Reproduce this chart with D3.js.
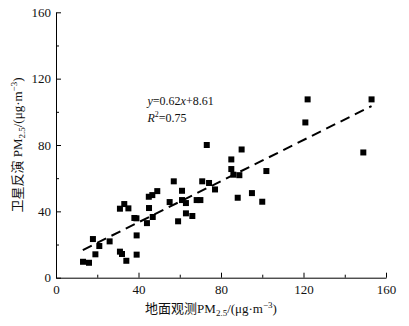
<!DOCTYPE html>
<html>
<head>
<meta charset="utf-8">
<script src="https://cdn.jsdelivr.net/npm/d3@7"></script>
<style>
  body { margin: 0; background: #fff; }
  svg text { font-family: "Liberation Serif", "Noto Sans CJK SC", serif; fill: #111; }
</style>
</head>
<body>
<div id="chart"></div>
<script>
const groundPM = [13.1, 16.0, 17.9, 19.1, 21.0, 26.0, 31.0, 31.0, 32.0, 33.1, 34.1, 35.1, 38.0, 39.0, 39.1, 39.1,
    44.1, 45.0, 45.1, 46.7, 46.9, 49.1, 55.1, 57.1, 59.2, 61.1, 61.1, 63.0, 63.0, 66.1, 68.2, 70.0, 70.9,
    73.1, 74.2, 77.1, 85.0, 85.0, 86.0, 88.1, 88.9, 90.0, 95.0, 100.0, 102.0, 120.9, 122.0, 149.0, 153.0];
const satellitePM = [9.6, 9.0, 23.3, 14.1, 19.1, 21.9, 41.6, 15.7, 14.3, 44.4, 10.2, 41.8, 36.0, 35.8, 25.5, 13.9,
    32.9, 48.8, 42.0, 49.8, 36.6, 52.2, 45.6, 58.1, 34.0, 52.4, 46.8, 45.0, 38.8, 37.2, 46.8, 46.8, 58.1,
    80.0, 57.1, 53.2, 71.3, 65.5, 62.1, 48.2, 61.8, 77.3, 51.0, 45.8, 64.3, 93.6, 107.5, 75.5, 107.5];

// regression shown on the chart
const fitSlope = 0.62;
const fitIntercept = 8.61;
const fitRange = [13, 153];

const majorTicks = [0, 40, 80, 120, 160];
const minorTicks = [20, 60, 100, 140];

const width = 409, height = 326;
const margin = { top: 12.3, right: 23, bottom: 48.3, left: 56 };
const w = width - margin.left - margin.right;
const h = height - margin.top - margin.bottom;

const svg = d3.select("#chart").append("svg")
    .attr("width", width)
    .attr("height", height);

const g = svg.append("g")
    .attr("transform", `translate(${margin.left},${margin.top})`);

const x = d3.scaleLinear().domain([0, 160]).range([0, w]);
const y = d3.scaleLinear().domain([0, 160]).range([h, 0]);

// axes, ticks pointing inward
g.append("g")
    .attr("transform", `translate(0,${h})`)
    .call(d3.axisBottom(x).tickValues(minorTicks).tickSize(-3).tickSizeOuter(0).tickFormat(""))
    .call(a => a.select(".domain").remove());
g.append("g")
    .call(d3.axisLeft(y).tickValues(minorTicks).tickSize(-3).tickSizeOuter(0).tickFormat(""))
    .call(a => a.select(".domain").remove());

const xAxis = g.append("g")
    .attr("transform", `translate(0,${h})`)
    .call(d3.axisBottom(x).tickValues(majorTicks).tickSize(-5).tickSizeOuter(0).tickPadding(7));
const yAxis = g.append("g")
    .call(d3.axisLeft(y).tickValues(majorTicks).tickSize(-5).tickSizeOuter(0).tickPadding(5));

[xAxis, yAxis].forEach(a => {
    a.selectAll("text").style("font-size", "13px").attr("fill", "#111");
    a.selectAll("line, path").attr("stroke", "#000");
});

// points
g.selectAll("rect.pt")
    .data(groundPM.map((v, i) => [v, satellitePM[i]]))
    .enter()
    .append("rect")
    .attr("class", "pt")
    .attr("x", d => x(d[0]) - 3)
    .attr("y", d => y(d[1]) - 3)
    .attr("width", 6)
    .attr("height", 6)
    .attr("fill", "#000");

// fit line
const line = d3.line()
    .x(d => x(d))
    .y(d => y(fitSlope * d + fitIntercept));

g.append("path")
    .datum(fitRange)
    .attr("fill", "none")
    .attr("stroke", "#000")
    .attr("stroke-width", 2)
    .attr("stroke-dasharray", "10 6")
    .attr("d", line);

// equation
const eq = svg.append("text")
    .attr("x", 147.5)
    .attr("y", 105.3)
    .style("font-size", "12px");
eq.append("tspan").style("font-style", "italic").text("y");
eq.append("tspan").text("=0.62");
eq.append("tspan").style("font-style", "italic").text("x");
eq.append("tspan").text("+8.61");

const r2 = svg.append("text")
    .attr("x", 147.5)
    .attr("y", 122.3)
    .style("font-size", "12px");
r2.append("tspan").style("font-style", "italic").text("R");
r2.append("tspan").attr("dy", -5).style("font-size", "8px").text("2");
r2.append("tspan").attr("dy", 5).text("=0.75");

// axis labels
function unitLabel(sel, prefix) {
    sel.append("tspan").text(prefix + "PM");
    sel.append("tspan").attr("dy", 3).style("font-size", "9px").text("2.5");
    sel.append("tspan").attr("dy", -3).text("/(μg·m");
    sel.append("tspan").attr("dy", -5).style("font-size", "9px").text("−3");
    sel.append("tspan").attr("dy", 5).text(")");
}

const xl = svg.append("text")
    .attr("x", 211)
    .attr("y", 313)
    .attr("text-anchor", "middle")
    .style("font-size", "13px");
unitLabel(xl, "地面观测");

const yl = svg.append("text")
    .attr("transform", "translate(22,145) rotate(-90)")
    .attr("text-anchor", "middle")
    .style("font-size", "13px");
unitLabel(yl, "卫星反演 ");
</script>
</body>
</html>
